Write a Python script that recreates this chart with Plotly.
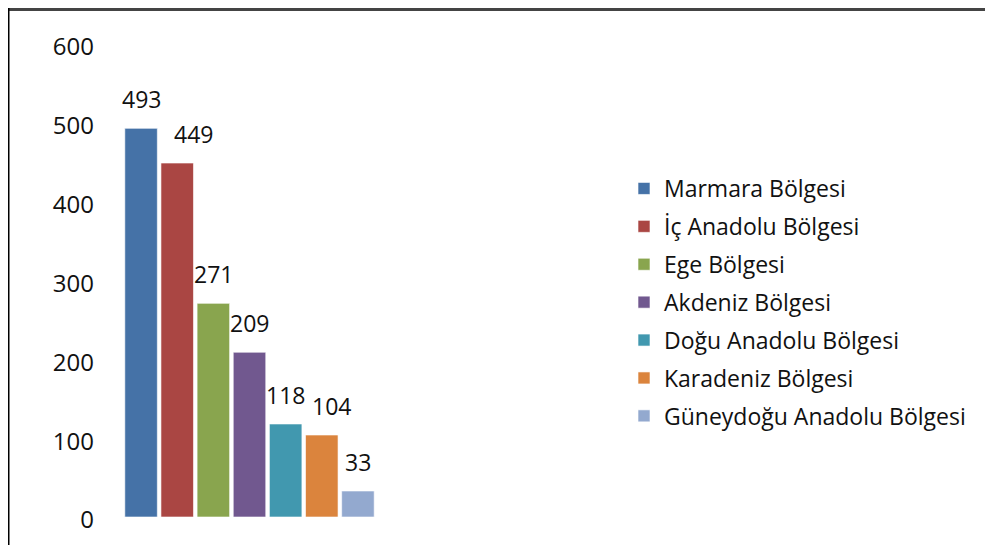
import plotly.graph_objects as go

regions = ['Marmara Bölgesi', 'İç Anadolu Bölgesi', 'Ege Bölgesi', 'Akdeniz Bölgesi',
           'Doğu Anadolu Bölgesi', 'Karadeniz Bölgesi', 'Güneydoğu Anadolu Bölgesi']
counts = [493, 449, 271, 209, 118, 104, 33]
colors = ['#4572A7', '#AA4643', '#89A54E', '#71588F', '#4198AF', '#DB843D', '#93A9CF']
y_ticks = [0, 100, 200, 300, 400, 500, 600]

# page has an 8px body margin, so work in page pixels and shift
OFF = 8
W, H = 993 - OFF, 545 - OFF
L, R, T, B = 123 - OFF, 376 - OFF, 44 - OFF, 517 - OFF  # plot area


def px_x(x):
    return (x - OFF - L) / (R - L)


def px_y(y):
    return (B - (y - OFF)) / (B - T)


fig = go.Figure()
for name, val, col in zip(regions, counts, colors):
    fig.add_trace(go.Bar(
        x=[name], y=[val], name=name, legendgroup=name,
        marker=dict(color=col, line=dict(color='rgba(255,255,255,0.6)', width=1)),
    ))

# labels nudged right where Excel moved them to avoid overlap
label_shift = {'İç Anadolu Bölgesi': 16, 'Karadeniz Bölgesi': 10}
for name, val in zip(regions, counts):
    fig.add_annotation(x=name, y=val, text=str(val), showarrow=False,
                       yanchor='bottom', yshift=11, xshift=label_shift.get(name, 0),
                       font=dict(size=23, color='#111'))

fig.update_layout(
    width=W, height=H,
    margin=dict(l=L, r=W - R, t=T, b=H - B, autoexpand=False),
    paper_bgcolor='white', plot_bgcolor='white',
    font=dict(family='Open Sans', size=23, color='#111'),
    barmode='relative', bargap=0.1,
    showlegend=True,
    legend=dict(x=px_x(624), y=px_y(167), xanchor='left', yanchor='top',
                font=dict(size=23), itemwidth=30, tracegroupgap=5,
                bgcolor='rgba(0,0,0,0)'),
    shapes=[
        dict(type='line', xref='paper', yref='paper', x0=px_x(8), x1=px_x(992),
             y0=px_y(9.5), y1=px_y(9.5), line=dict(color='#444', width=3)),
        dict(type='line', xref='paper', yref='paper', x0=px_x(8.5), x1=px_x(8.5),
             y0=px_y(8), y1=px_y(545), line=dict(color='#000', width=2)),
    ],
)
fig.update_xaxes(range=[-0.5, 6.5], showticklabels=False, showgrid=False,
                 zeroline=False, showline=False, automargin=False)
fig.update_yaxes(range=[0, 600], tickvals=y_ticks, showgrid=False, zeroline=False,
                 showline=False, ticklabelstandoff=28, ticklabelshift=3,
                 automargin=False, tickfont=dict(size=24))

fig.write_html('out.html')
